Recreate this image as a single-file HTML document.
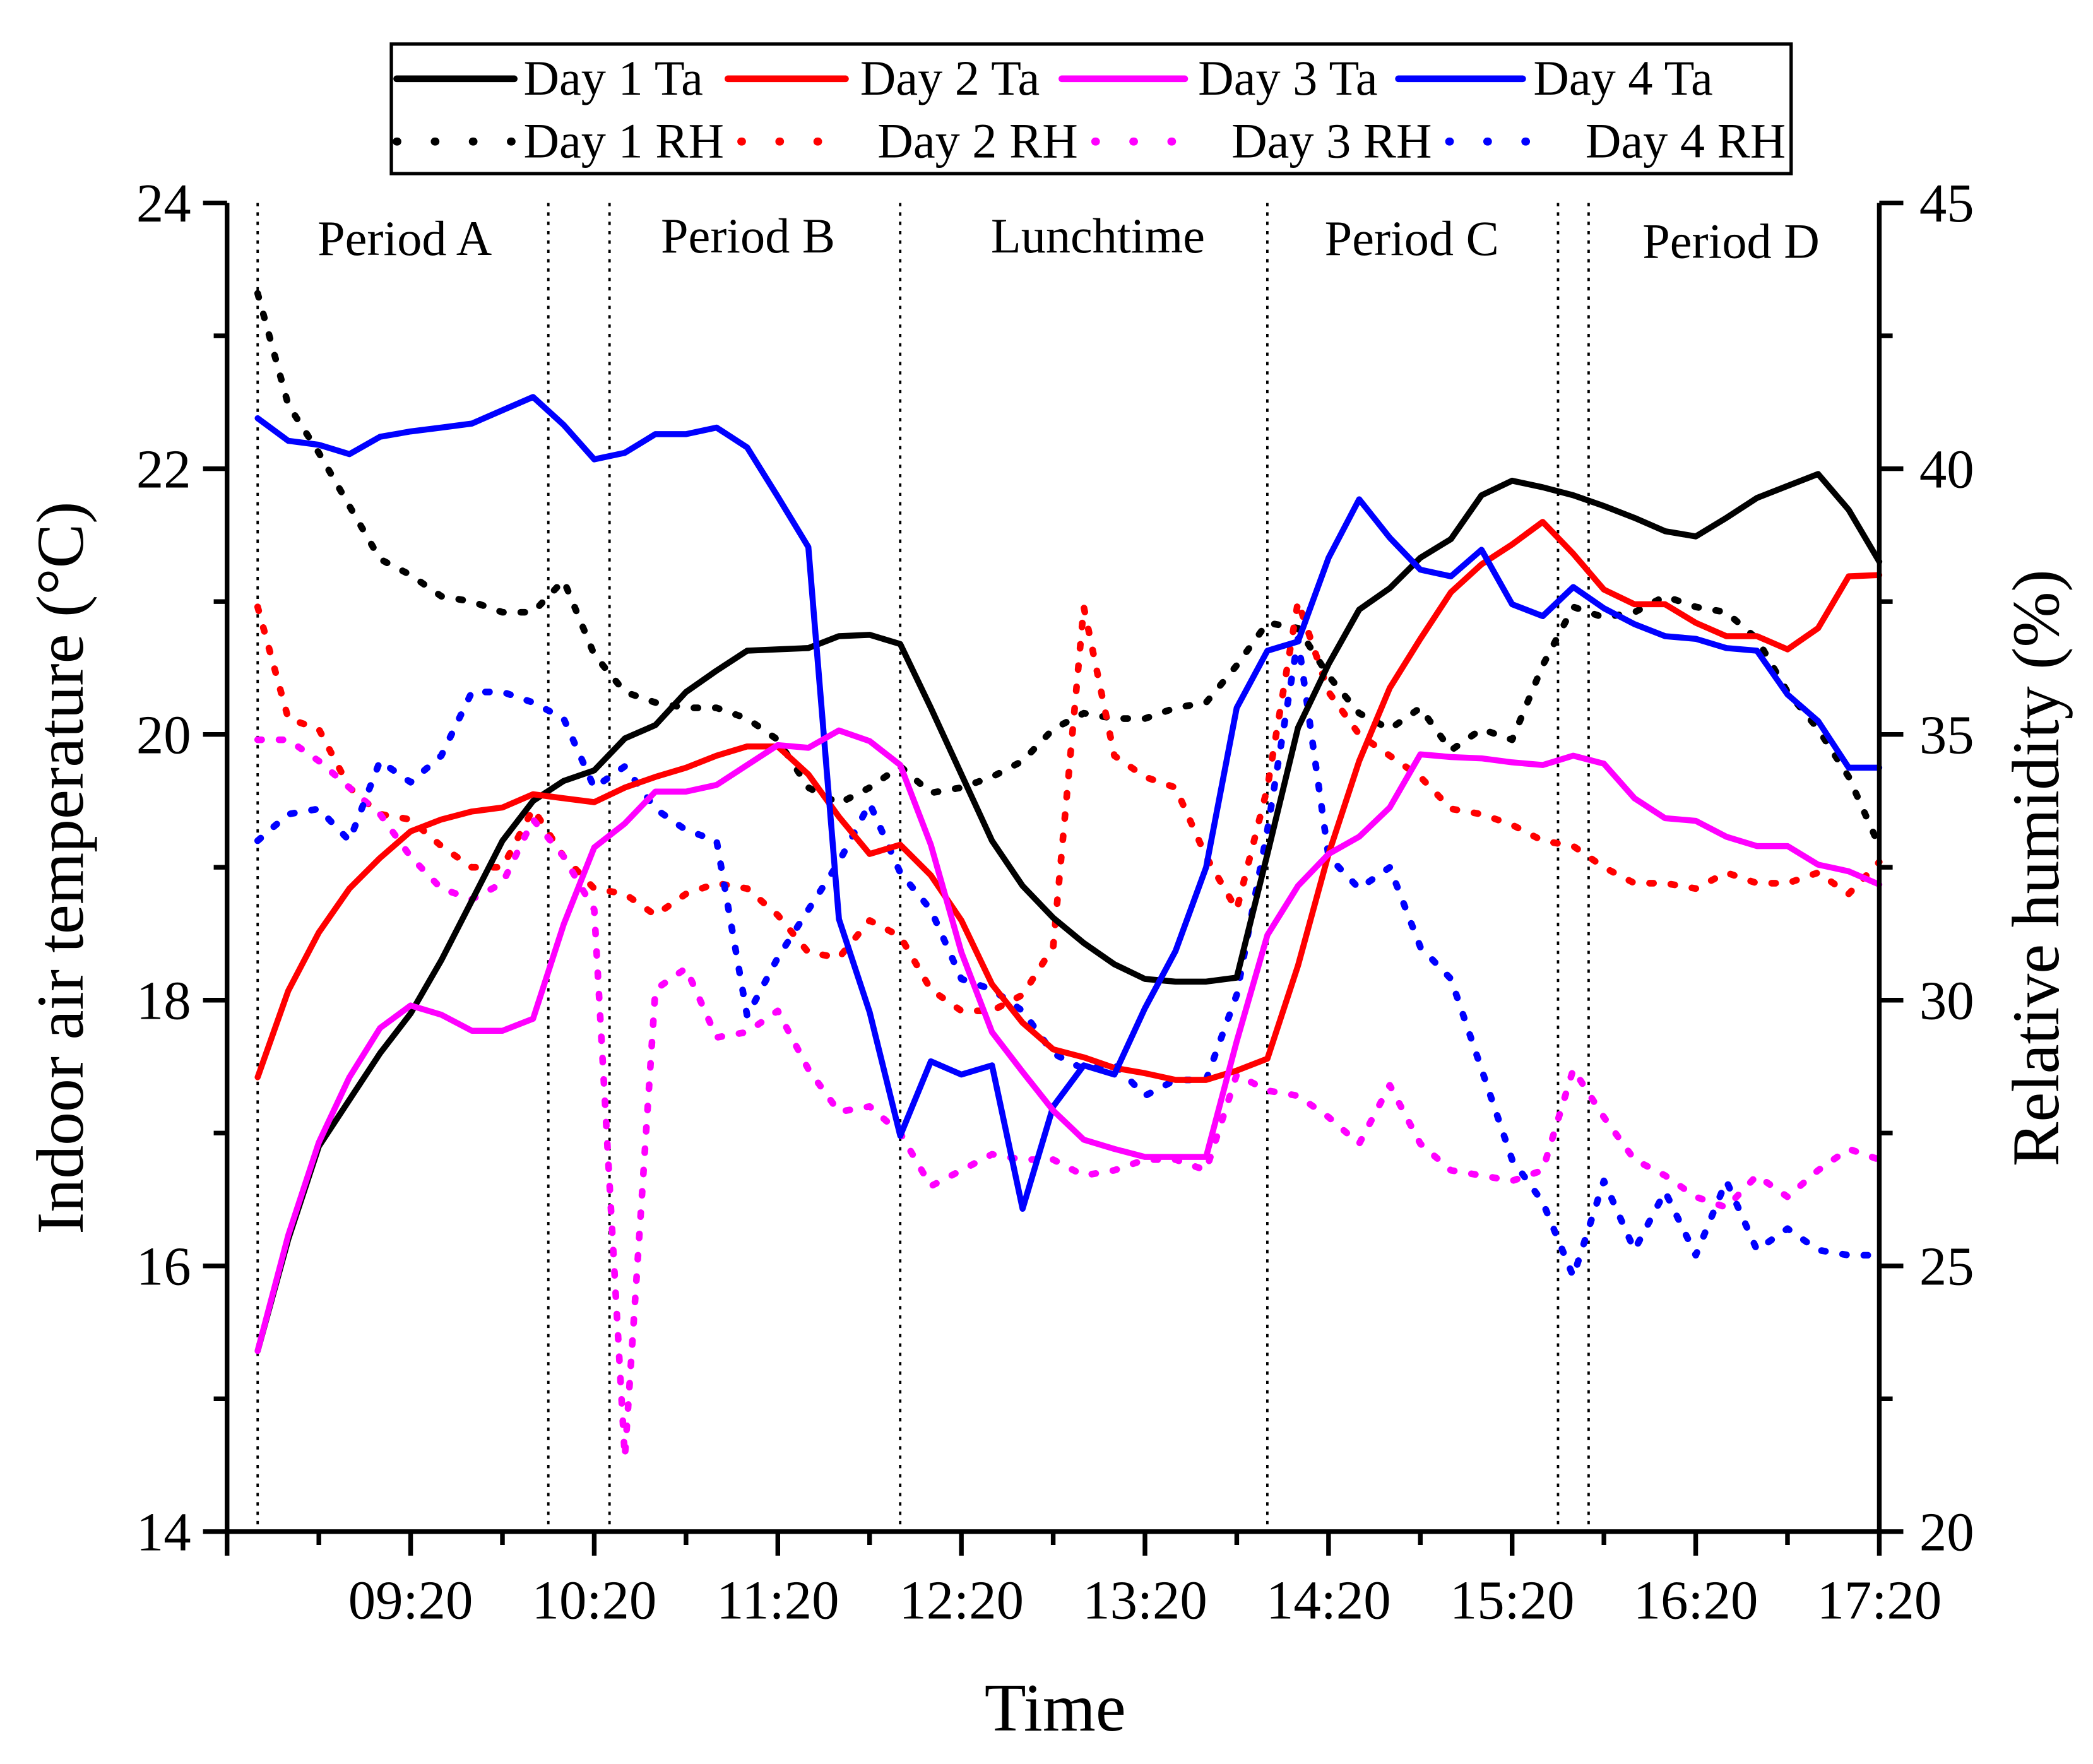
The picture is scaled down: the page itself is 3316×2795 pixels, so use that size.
<!DOCTYPE html>
<html><head><meta charset="utf-8"><style>
html,body{margin:0;padding:0;background:#fff;}
svg{display:block;font-family:"Liberation Serif",serif;}
</style></head><body>
<svg id="chart" width="3316" height="2795" viewBox="0 0 1567 1321" preserveAspectRatio="none" xmlns="http://www.w3.org/2000/svg">
<rect x="0" y="0" width="1567" height="1321" fill="#fff"/>
<g id="grid"></g>
<g id="series"></g>
<g id="axes"></g>
<g id="legend"></g>
</svg>
<script>
// time in minutes after 08:30, every 10 min
const pointCount = 54;
const xTickLabels = ["09:20","10:20","11:20","12:20","13:20","14:20","15:20","16:20","17:20"];
const tempTicks = [14,16,18,20,22,24];
const rhTicks = [20,25,30,35,40,45];
const periodLines = ["08:30","10:05","10:25","12:00","14:00","15:35","15:45"];
const periodNames = ["Period A","Period B","Lunchtime","Period C","Period D"];
const day1Ta = [15.36,16.2,16.9,17.25,17.6,17.9,18.3,18.75,19.2,19.5,19.65,19.73,19.97,20.07,20.32,20.48,20.63,20.64,20.65,20.74,20.75,20.68,20.2,19.7,19.2,18.86,18.62,18.43,18.27,18.16,18.14,18.14,18.17,19.1,20.05,20.53,20.94,21.1,21.33,21.47,21.8,21.91,21.86,21.8,21.72,21.63,21.53,21.49,21.63,21.78,21.87,21.96,21.69,21.3];
const day2Ta = [17.42,18.07,18.51,18.84,19.07,19.27,19.36,19.42,19.45,19.55,19.52,19.49,19.6,19.68,19.75,19.84,19.91,19.91,19.7,19.38,19.1,19.17,18.94,18.6,18.12,17.83,17.63,17.57,17.49,17.45,17.4,17.4,17.47,17.56,18.26,19.1,19.8,20.35,20.72,21.07,21.28,21.43,21.6,21.36,21.09,20.98,20.98,20.84,20.74,20.74,20.64,20.8,21.19,21.2];
const day3Ta = [15.36,16.23,16.93,17.42,17.79,17.96,17.89,17.77,17.77,17.86,18.57,19.15,19.33,19.57,19.57,19.62,19.77,19.92,19.9,20.03,19.95,19.77,19.17,18.36,17.76,17.46,17.17,16.95,16.88,16.82,16.82,16.82,17.69,18.49,18.86,19.1,19.23,19.45,19.85,19.83,19.82,19.79,19.77,19.84,19.78,19.52,19.37,19.35,19.23,19.16,19.16,19.02,18.97,18.87];
const day4Ta = [22.38,22.21,22.18,22.11,22.24,22.28,22.31,22.34,22.44,22.54,22.33,22.07,22.12,22.26,22.26,22.31,22.16,21.79,21.41,18.61,17.91,16.98,17.54,17.44,17.51,16.43,17.2,17.51,17.44,17.94,18.37,19.0,20.2,20.63,20.7,21.33,21.77,21.48,21.24,21.19,21.39,20.98,20.89,21.11,20.95,20.83,20.74,20.72,20.65,20.63,20.3,20.1,19.75,19.75];
const day1RH = [43.3,41.2,40.3,39.3,38.3,38.0,37.6,37.5,37.3,37.3,37.9,36.5,35.8,35.6,35.5,35.5,35.3,34.9,34.0,33.7,34.0,34.4,33.9,34.0,34.2,34.5,35.1,35.4,35.3,35.3,35.5,35.6,36.3,37.1,37.0,36.1,35.4,35.1,35.5,34.7,35.1,34.9,36.3,37.4,37.2,37.3,37.6,37.4,37.3,36.8,35.8,35.1,34.2,32.9];
const day2RH = [37.4,35.3,35.1,34.0,33.5,33.4,32.9,32.5,32.5,33.6,32.7,32.1,32.0,31.6,32.0,32.2,32.1,31.6,30.9,30.8,31.5,31.2,30.2,29.8,29.8,30.1,31.0,37.4,34.6,34.2,34.0,32.7,31.7,34.0,37.5,35.8,35.0,34.6,34.2,33.6,33.5,33.3,33.0,32.9,32.5,32.2,32.2,32.1,32.4,32.2,32.2,32.4,32.0,32.6];
const day3RH = [34.9,34.9,34.5,34.0,33.5,32.7,32.1,31.9,32.2,33.4,32.7,31.7,21.4,30.2,30.6,29.3,29.4,29.8,28.7,27.9,28.0,27.5,26.5,26.8,27.1,27.0,27.0,26.7,26.8,27.0,27.0,26.8,28.6,28.3,28.2,27.8,27.3,28.4,27.3,26.8,26.7,26.6,26.8,28.7,27.8,27.0,26.7,26.3,26.1,26.7,26.3,26.8,27.2,27.0];
const day4RH = [33.0,33.5,33.6,33.0,34.5,34.1,34.6,35.8,35.8,35.6,35.3,34.0,34.4,33.6,33.2,33.0,29.7,30.8,31.7,32.6,33.7,32.4,31.7,30.4,30.2,29.8,29.0,28.7,28.8,28.2,28.5,28.5,30.1,33.2,36.8,32.7,32.1,32.5,31.0,30.4,28.7,27.0,26.2,24.8,26.6,25.3,26.4,25.2,26.6,25.3,25.7,25.3,25.2,25.2];

const NS="http://www.w3.org/2000/svg";
const X0=170,X1=1407,YB=1147,YT=152;
function minutesOf(s){const p=s.split(":");return (+p[0])*60+(+p[1]);}
const T0=minutesOf("08:20"),T1=minutesOf("17:20");
function xMin(m){return X0+(m-T0)/(T1-T0)*(X1-X0);}
function xIdx(i){return xMin(minutesOf("08:30")+i*10);}
function yT(v){return YB-(v-14)/(24-14)*(YB-YT);}
function yR(v){return YB-(v-20)/(45-20)*(YB-YT);}
function mk(tag,attrs,parent){const e=document.createElementNS(NS,tag);for(const k in attrs)e.setAttribute(k,attrs[k]);parent.appendChild(e);return e;}
const grid=document.getElementById('grid'),ser=document.getElementById('series'),axes=document.getElementById('axes'),leg=document.getElementById('legend');

periodLines.forEach(t=>{const x=xMin(minutesOf(t));
 const l=mk('line',{x1:x,x2:x,y1:YT,y2:YB,stroke:'#000','stroke-width':1.8,'stroke-dasharray':'2.5 4.5'},grid);
 
 });
const pLab=[[303,179],[560,177],[822,177],[1057,179],[1296,181]];
periodNames.forEach((n,i)=>{const t=mk('text',{x:pLab[i][0],y:pLab[i][1]+12,'font-size':37,'text-anchor':'middle'},grid);t.textContent=n;
 
 });

function drawLine(arr,scale,color,dotted,name){
 let d='';arr.forEach((v,i)=>{d+=(i?'L':'M')+xIdx(i).toFixed(1)+','+scale(v).toFixed(1);});
 const p=mk('path',{d:d,fill:'none',stroke:color,'stroke-width':dotted?5:4.5,'stroke-linejoin':'round','stroke-linecap':'round'},ser);
 if(dotted){p.setAttribute('stroke-dasharray','3 13');}
 
 
}
drawLine(day1RH,yR,'#000',true,'day1-rh-line');
drawLine(day2RH,yR,'#f00',true,'day2-rh-line');
drawLine(day3RH,yR,'#f0f',true,'day3-rh-line');
drawLine(day4RH,yR,'#00f',true,'day4-rh-line');
drawLine(day1Ta,yT,'#000',false,'day1-ta-line');
drawLine(day2Ta,yT,'#f00',false,'day2-ta-line');
drawLine(day4Ta,yT,'#00f',false,'day4-ta-line');
drawLine(day3Ta,yT,'#f0f',false,'day3-ta-line');

// axes
const ax=mk('path',{d:`M${X0},${YT}V${YB}H${X1}V${YT}`,fill:'none',stroke:'#000','stroke-width':3.5},axes);


for(let v=14;v<=24;v+=1){const y=yT(v);const maj=v%2===0;
 const l=mk('line',{x1:X0,x2:X0-(maj?18:10),y1:y,y2:y,stroke:'#000','stroke-width':3.5},axes);
 
 }
tempTicks.forEach(v=>{const t=mk('text',{x:143,y:yT(v)+14,'font-size':41,'text-anchor':'end'},axes);t.textContent=v;
 
 });
for(let v=20;v<=45;v+=2.5){const y=yR(v);const maj=v%5===0;
 const l=mk('line',{x1:X1,x2:X1+(maj?18:10),y1:y,y2:y,stroke:'#000','stroke-width':3.5},axes);
 
 }
rhTicks.forEach(v=>{const t=mk('text',{x:1437,y:yR(v)+14,'font-size':41},axes);t.textContent=v;
 
 });
for(let m=T0;m<=T1;m+=30){const x=xMin(m);const maj=(m-T0)%60===0;
 const l=mk('line',{x1:x,x2:x,y1:YB,y2:YB+(maj?18:10),stroke:'#000','stroke-width':3.5},axes);
 
 }
xTickLabels.forEach(s=>{const t=mk('text',{x:xMin(minutesOf(s)),y:1212,'font-size':41,'text-anchor':'middle'},axes);t.textContent=s;
 
 });
let t=mk('text',{x:790,y:1296,'font-size':51,'text-anchor':'middle'},axes);t.textContent='Time';


t=mk('text',{x:0,y:0,'font-size':50,'text-anchor':'middle',transform:'translate(62,650) rotate(-90)'},axes);t.textContent='Indoor air temperature (°C)';


t=mk('text',{x:0,y:0,'font-size':50,'text-anchor':'middle',transform:'translate(1541,650) rotate(-90)'},axes);t.textContent='Relative humidity (%)';



// legend
const lb=mk('rect',{x:293,y:33,width:1048,height:97,fill:'#fff',stroke:'#000','stroke-width':2.5},leg);


const legLabels=[["Day 1 Ta","#000",297,385,392,0],["Day 2 Ta","#f00",545,633,644,0],["Day 3 Ta","#f0f",795,887,897,0],["Day 4 Ta","#00f",1047,1140,1148,0],
 ["Day 1 RH","#000",297,385,392,1],["Day 2 RH","#f00",555,640,657,1],["Day 3 RH","#f0f",820,905,922,1],["Day 4 RH","#00f",1085,1170,1187,1]];
legLabels.forEach(e=>{const y=e[5]?106:59;
 const l=mk('line',{x1:e[2],x2:e[3],y1:y,y2:y,stroke:e[1],'stroke-width':e[5]?6:5,'stroke-linecap':'round'},leg);
 if(e[5])l.setAttribute('stroke-dasharray','0.5 28');
 
 
 const tx=mk('text',{x:e[4],y:y+12,'font-size':37},leg);tx.textContent=e[0];
 
 });
</script>
</body></html>
